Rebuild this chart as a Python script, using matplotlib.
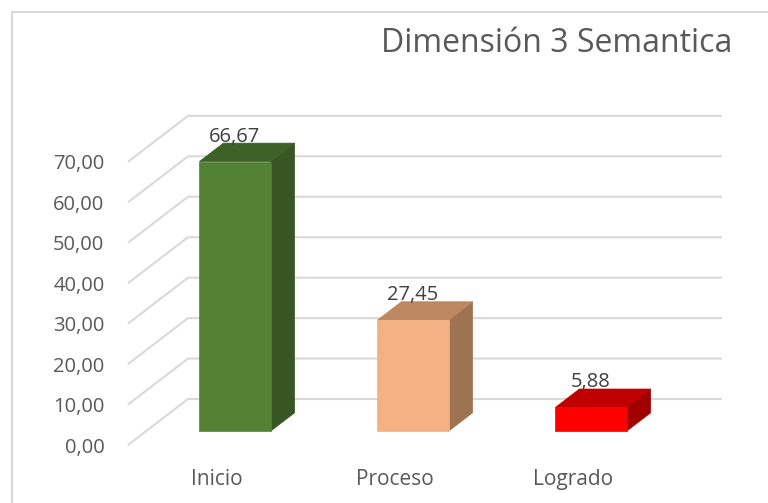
import matplotlib
matplotlib.use("Agg")
import matplotlib.pyplot as plt
from matplotlib.patches import Polygon
from matplotlib.lines import Line2D

# ---- data ----
categories = ["Inicio", "Proceso", "Logrado"]
values = [66.67, 27.45, 5.88]
value_labels = ["66,67", "27,45", "5,88"]
front_colors = ["#548235", "#f4b183", "#ff0000"]
top_colors = ["#3e6128", "#bd8762", "#c00000"]
side_colors = ["#375623", "#9e7352", "#a00000"]
yticks = [0, 10, 20, 30, 40, 50, 60, 70]
ytick_labels = ["0,00", "10,00", "20,00", "30,00", "40,00", "50,00", "60,00", "70,00"]
title = "Dimensión 3 Semantica"

plt.rcParams['font.family'] = ['Open Sans', 'DejaVu Sans']

W, H = 768, 503
fig = plt.figure(figsize=(W / 100, H / 100), dpi=100)

# axes geometry (pixels)
ax_l, ax_r, ax_t, ax_b = 128, 740, 100, 445
px_per_cat = 178.0
px_per_val = 4.045
ax = fig.add_axes([ax_l / W, (H - ax_b) / H, (ax_r - ax_l) / W, (ax_b - ax_t) / H])
ax.set_xlim(-0.5, -0.5 + (ax_r - ax_l) / px_per_cat)
ax.set_ylim(0, (ax_b - ax_t) / px_per_val)

# oblique depth vector in data units
DX = 60 / px_per_cat
DY = 46 / px_per_val

def P(x, v, t):
    return (x + t * DX, v + t * DY)

grid_c = "#d9d9d9"
n = len(categories)
for v in yticks:
    a = P(-0.5, v, 0)
    b = P(-0.5, v, 1)
    c = P(n - 0.5, v, 1)
    ax.plot([a[0], b[0], c[0]], [a[1], b[1], c[1]], color=grid_c, lw=1.5,
            solid_capstyle='butt', clip_on=False, zorder=1)

hw = 0.2
t0, t1 = 0.3, 0.7
for i, v in enumerate(values):
    front = [P(i - hw, 0, t0), P(i + hw, 0, t0), P(i + hw, v, t0), P(i - hw, v, t0)]
    side = [P(i + hw, 0, t0), P(i + hw, 0, t1), P(i + hw, v, t1), P(i + hw, v, t0)]
    top = [P(i - hw, v, t0), P(i + hw, v, t0), P(i + hw, v, t1), P(i - hw, v, t1)]
    for poly, col in ((side, side_colors[i]), (top, top_colors[i]), (front, front_colors[i])):
        ax.add_patch(Polygon(poly, closed=True, facecolor=col, edgecolor=col,
                             lw=0.5, zorder=3, clip_on=False))
    lx, ly = P(i, v, t0)
    ax.annotate(value_labels[i], (lx, ly), xytext=(0, 18), textcoords='offset points',
                ha='center', va='center', fontsize=14.5, color='#404040', zorder=5,
                annotation_clip=False)

ax.set_yticks(yticks, ytick_labels)
ax.set_xticks(range(n), categories)
ax.tick_params(axis='y', length=0, pad=17, labelsize=14.5, labelcolor='#595959')
ax.tick_params(axis='x', length=0, pad=17, labelsize=15, labelcolor='#595959')
for s in ax.spines.values():
    s.set_visible(False)
ax.patch.set_visible(False)

fig.text(557 / W, (H - 52) / H, title, ha='center', va='baseline',
         fontsize=23, color='#595959')

fig.add_artist(Line2D([11.5 / W, 11.5 / W, 1.02], [-0.02, 1 - 11.5 / H, 1 - 11.5 / H],
                      transform=fig.transFigure, color=grid_c, lw=1.5))

fig.savefig("out.png", dpi=100)
